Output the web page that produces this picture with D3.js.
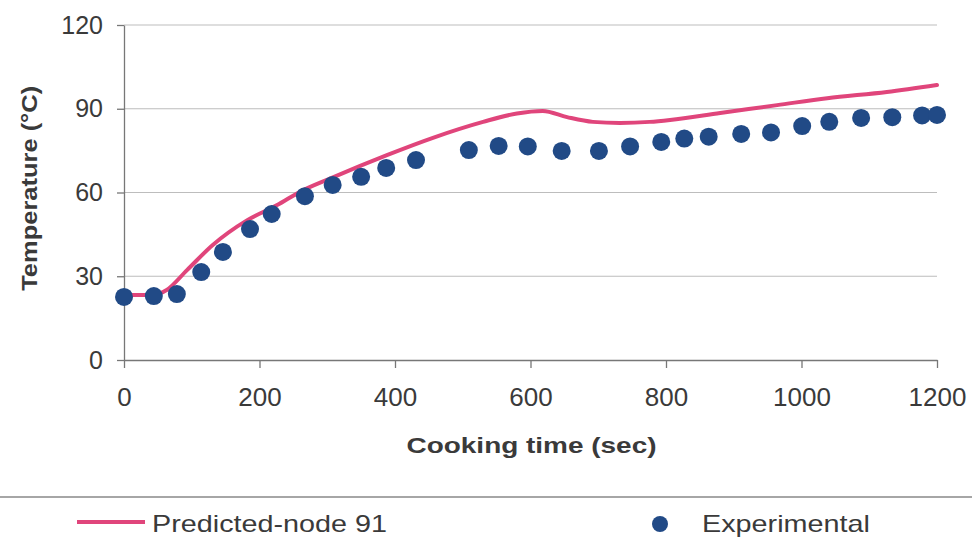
<!DOCTYPE html>
<html lang="en">
<head>
    <meta charset="UTF-8">
    <title>Temperature vs cooking time</title>
    <style>
        body { margin: 0; background: #fff; }
        text { font-family: "Liberation Sans", Arial, sans-serif; fill: #3a3a3a; }
    </style>
</head>
<body>
    <div id="my_dataviz"></div>

    <script src="https://d3js.org/d3.v7.min.js"></script>
    <script>

        // predicted curve (node 91)
        const predTime = [0, 43, 63, 93, 131, 182, 226, 260, 304, 388, 456, 530, 580, 618, 654, 692, 732, 776, 806, 880, 964, 1038, 1126, 1200];
        const predTemp = [23.3, 23.3, 25.1, 32.2, 41.2, 50.1, 55.5, 60.3, 65.0, 73.4, 79.6, 85.3, 88.3, 89.2, 87.0, 85.3, 84.9, 85.3, 86.0, 88.5, 91.3, 93.8, 96.0, 98.5];

        // experimental points
        const expTime = [0, 44, 78, 114, 146, 186, 218, 267, 308, 350, 387, 431, 509, 553, 596, 646, 701, 747, 793, 827, 863, 911, 955, 1001, 1041, 1088, 1134, 1178, 1200];
        const expTemp = [22.6, 22.9, 23.6, 31.5, 38.7, 46.9, 52.3, 58.7, 62.7, 65.6, 68.8, 71.6, 75.2, 76.7, 76.5, 74.9, 74.9, 76.5, 78.1, 79.3, 80.0, 81.0, 81.5, 83.8, 85.3, 86.7, 87.0, 87.6, 87.8];

        const xTicks = [0, 200, 400, 600, 800, 1000, 1200];
        const yTicks = [0, 30, 60, 90, 120];

        const W = 972, H = 541;
        const margin = {top: 25, right: 35, bottom: 181, left: 124},
            width = W - margin.left - margin.right,
            height = H - margin.top - margin.bottom;

        const root = d3.select("#my_dataviz")
          .append("svg")
            .attr("width", W)
            .attr("height", H);

        const svg = root.append("g")
            .attr("transform", `translate(${margin.left},${margin.top})`);

        const x = d3.scaleLinear().domain([0, 1200]).range([0, width]);
        const y = d3.scaleLinear().domain([0, 120]).range([height, 0]);

        // gridlines
        svg.append("g")
          .selectAll("line")
          .data(yTicks.filter(d => d > 0))
          .join("line")
            .attr("x1", 0)
            .attr("x2", width)
            .attr("y1", d => y(d))
            .attr("y2", d => y(d))
            .attr("stroke", "#bdbdbd")
            .attr("stroke-width", 1.2);

        // Y axis
        const yAxis = svg.append("g")
          .call(d3.axisLeft(y).tickValues(yTicks).tickSize(7).tickPadding(14).tickSizeOuter(0));
        yAxis.select(".domain").attr("stroke", "#777").attr("stroke-width", 1.3);
        yAxis.selectAll(".tick line").attr("stroke", "#777").attr("stroke-width", 1.3);
        yAxis.selectAll("text")
            .style("font-size", "25px")
            .style("font-family", "Liberation Sans, Arial, sans-serif")
            .attr("fill", "#3a3a3a");

        // X axis
        const xAxis = svg.append("g")
          .attr("transform", `translate(0, ${height})`)
          .call(d3.axisBottom(x).tickValues(xTicks).tickFormat(d3.format("d"))
            .tickSize(8).tickPadding(20).tickSizeOuter(0));
        xAxis.select(".domain").attr("stroke", "#777").attr("stroke-width", 1.3);
        xAxis.selectAll(".tick line").attr("stroke", "#777").attr("stroke-width", 1.3);
        xAxis.selectAll("text")
            .style("font-size", "26px")
            .style("font-family", "Liberation Sans, Arial, sans-serif")
            .attr("fill", "#3a3a3a");

        // axis titles
        svg.append("text")
            .attr("x", width / 2 + 1)
            .attr("y", height + 93)
            .attr("text-anchor", "middle")
            .attr("textLength", 250)
            .attr("lengthAdjust", "spacingAndGlyphs")
            .style("font-size", "22px")
            .style("font-weight", "bold")
            .text("Cooking time (sec)");

        svg.append("text")
            .attr("transform", `translate(-87, ${y(61.5)}) rotate(-90)`)
            .attr("text-anchor", "middle")
            .attr("textLength", 205)
            .attr("lengthAdjust", "spacingAndGlyphs")
            .style("font-size", "22px")
            .style("font-weight", "bold")
            .text("Temperature (°C)");

        // predicted line
        const pred = predTime.map((t, i) => ({t: t, v: predTemp[i]}));
        const line = d3.line()
            .x(d => x(d.t))
            .y(d => y(d.v))
            .curve(d3.curveMonotoneX);
        svg.append("path")
            .datum(pred)
            .attr("fill", "none")
            .attr("stroke", "#e0457b")
            .attr("stroke-width", 4)
            .attr("stroke-linecap", "round")
            .attr("d", line);

        // experimental dots
        const exp = expTime.map((t, i) => ({t: t, v: expTemp[i]}));
        svg.selectAll("dot")
          .data(exp)
          .join("circle")
            .attr("cx", d => x(d.t))
            .attr("cy", d => y(d.v))
            .attr("r", 9)
            .attr("fill", "#214a86");

        // separator above legend
        root.append("line")
            .attr("x1", 0)
            .attr("x2", W)
            .attr("y1", 497)
            .attr("y2", 497)
            .attr("stroke", "#888")
            .attr("stroke-width", 1.5);

        // legend
        const legend = root.append("g");
        legend.append("line")
            .attr("x1", 77)
            .attr("x2", 145)
            .attr("y1", 522)
            .attr("y2", 522)
            .attr("stroke", "#e0457b")
            .attr("stroke-width", 4);
        legend.append("text")
            .attr("x", 152)
            .attr("y", 532)
            .attr("textLength", 235)
            .attr("lengthAdjust", "spacingAndGlyphs")
            .style("font-size", "24px")
            .text("Predicted-node 91");
        legend.append("circle")
            .attr("cx", 660)
            .attr("cy", 524)
            .attr("r", 8)
            .attr("fill", "#214a86");
        legend.append("text")
            .attr("x", 702)
            .attr("y", 532)
            .attr("textLength", 168)
            .attr("lengthAdjust", "spacingAndGlyphs")
            .style("font-size", "24px")
            .text("Experimental");

    </script>
</body>
</html>
